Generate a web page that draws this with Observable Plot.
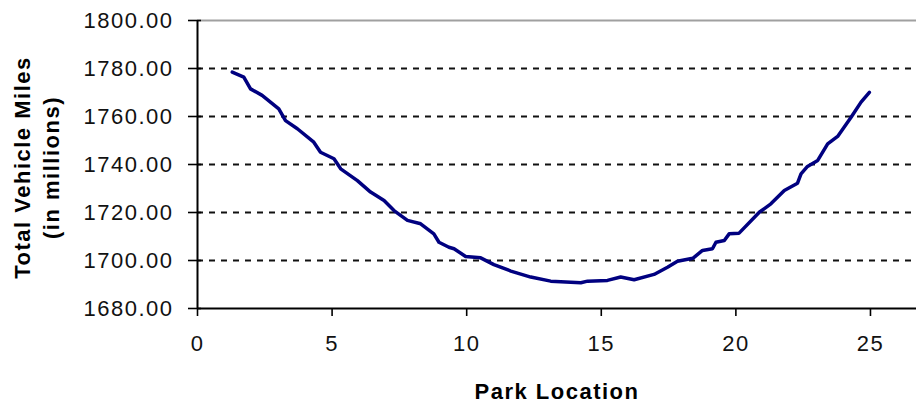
<!DOCTYPE html>
<html>
<head>
<meta charset="utf-8">
<script src="https://cdn.jsdelivr.net/npm/d3@7"></script>
<script src="https://cdn.jsdelivr.net/npm/@observablehq/plot@0.6"></script>
<style>
  html, body { margin: 0; padding: 0; background: #fff; }
  #chart svg { display: block; }
</style>
</head>
<body>
<div id="chart"></div>
<script>
// Park location (x) and total vehicle miles in millions (y)
const parkLocation = [1.29, 1.72, 1.97, 2.40, 3.02, 3.27, 3.71, 4.32, 4.57, 5.07, 5.32, 5.94, 6.43, 6.93, 7.30, 7.80, 8.29, 8.78, 8.97, 9.34, 9.53, 9.96, 10.52, 11.01, 11.64, 12.38, 13.12, 14.24, 14.49, 15.23, 15.72, 16.22, 16.96, 17.46, 17.83, 18.40, 18.76, 19.13, 19.26, 19.57, 19.75, 20.12, 20.87, 21.30, 21.80, 22.29, 22.42, 22.66, 23.04, 23.41, 23.78, 24.28, 24.65, 24.96];
const vehicleMiles = [1778.5, 1776.4, 1771.5, 1768.8, 1763.2, 1758.3, 1754.9, 1749.3, 1745.1, 1742.4, 1738.2, 1733.3, 1728.5, 1725.0, 1720.8, 1716.7, 1715.3, 1711.1, 1707.6, 1705.5, 1704.9, 1701.7, 1701.1, 1698.3, 1695.6, 1693.1, 1691.4, 1690.7, 1691.4, 1691.7, 1693.1, 1692.0, 1694.2, 1697.2, 1699.7, 1700.9, 1704.2, 1704.9, 1707.6, 1708.3, 1711.1, 1711.4, 1720.1, 1723.6, 1729.2, 1732.2, 1736.1, 1739.2, 1741.7, 1748.6, 1751.7, 1759.7, 1766.0, 1770.1];

const xTicks = [0, 5, 10, 15, 20, 25];
const yTicks = [1680, 1700, 1720, 1740, 1760, 1780, 1800];
const gridValues = [1700, 1720, 1740, 1760, 1780];
const xTitle = "Park Location";
const yTitle = "Total Vehicle Miles\n(in millions)";

const data = parkLocation.map((x, i) => ({x, y: vehicleMiles[i]}));

const font = "'Liberation Sans', Arial, sans-serif";

const chart = Plot.plot({
  width: 916,
  height: 404,
  marginLeft: 197,
  marginRight: 0,
  marginTop: 20,
  marginBottom: 96,
  style: {fontFamily: font, fontSize: "22px", color: "#000", background: "#fff"},
  x: {domain: [0, 26.71], axis: null},
  y: {domain: [1680, 1800], axis: null},
  marks: [
    Plot.ruleY([1800], {stroke: "#a0a0a0", strokeWidth: 2}),
    Plot.ruleY(gridValues, {stroke: "#111", strokeWidth: 2, strokeDasharray: "6,6"}),
    Plot.line(data, {x: "x", y: "y", stroke: "#000080", strokeWidth: 3.5, strokeLinejoin: "round", strokeLinecap: "round"}),
    Plot.ruleX([0], {stroke: "#000", strokeWidth: 2}),
    Plot.ruleY([1680], {stroke: "#000", strokeWidth: 2}),
    Plot.axisY(yTicks, {
      tickSize: 13, dx: 4, tickPadding: 15, strokeWidth: 1.6, stroke: "#000",
      tickFormat: d => d.toFixed(2), fontSize: 22, fill: "#111", label: null
    }),
    Plot.axisX(xTicks, {
      tickSize: 8, tickPadding: 19, strokeWidth: 1.6, stroke: "#000",
      fontSize: 22, fill: "#111", label: null
    }),
    Plot.text([xTitle], {
      frameAnchor: "bottom", dy: 83, lineAnchor: "middle",
      fontWeight: "bold", fontSize: 22, fill: "#000"
    }),
    Plot.text([yTitle], {
      frameAnchor: "left", dx: -162, dy: 3, rotate: -90, lineAnchor: "middle",
      textAnchor: "middle", lineHeight: 1.3, fontWeight: "bold", fontSize: 22, fill: "#000"
    })
  ]
});

document.getElementById("chart").appendChild(chart);
// slight letter spacing to match the wide rendering of the original
d3.select(chart).selectAll("text").attr("letter-spacing", "1.5px");
</script>
</body>
</html>
